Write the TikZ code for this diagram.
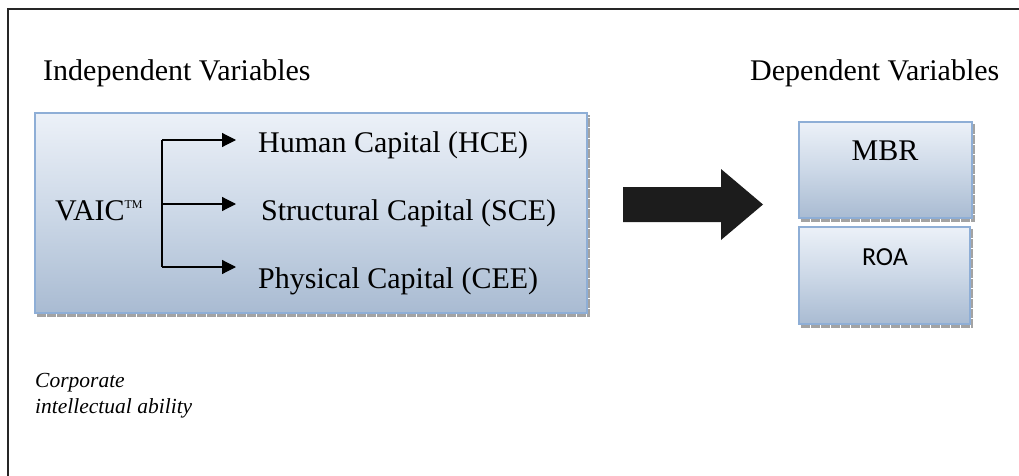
\documentclass[tikz,border=0pt]{standalone}
\usepackage{fontspec}
\setmainfont{Liberation Serif}
\newfontfamily\calib{Carlito}
\usetikzlibrary{arrows.meta}
\definecolor{boxtop}{HTML}{ECF1F8}
\definecolor{boxmid}{HTML}{CCD8E7}
\definecolor{boxbot}{HTML}{A9BBD2}
\definecolor{boxedge}{HTML}{8EAED6}
\definecolor{shadowgray}{HTML}{A3A3A3}
\definecolor{arrowblack}{HTML}{1C1C1C}
\tikzset{
  glassbox/.style={draw=boxedge, line width=1.8pt, top color=boxtop, bottom color=boxbot, middle color=boxmid},
  boxshadow/.style={draw=shadowgray, line width=2.2pt, dash pattern=on 9pt off 1pt},
  bigtxt/.style={inner sep=0pt, font=\fontsize{30}{30}\selectfont},
  itxt/.style={inner sep=0pt, font=\fontsize{21.5}{21.5}\selectfont\itshape},
  branch/.style={line width=1.2pt, draw=black},
  brarrow/.style={branch, -{Triangle[length=14pt,width=14pt]}},
}
\begin{document}
\begin{tikzpicture}[x=1pt,y=-1pt]
\useasboundingbox (0,0) rectangle (1019,476);
% outer frame (top and left only)
\draw[line width=1.4pt, draw=black!85] (8,476) -- (8,9) -- (1019,9);

% headings
\node[bigtxt, anchor=base west] (indep) at (43,81) {Independent Variables};
\node[bigtxt, anchor=base west] (dep) at (750,81) {Dependent Variables};

% big box
\draw[boxshadow] (37,315.5) -- (589,315.5) -- (589,115);
\path[glassbox] (35,113) rectangle (587,313);

% VAIC and capitals
\node[bigtxt, anchor=base west] (vaic) at (55,220) {VAIC\raisebox{12pt}{\fontsize{12}{12}\selectfont TM}};
\node[bigtxt, anchor=base west] (hce) at (258,152) {Human Capital (HCE)};
\node[bigtxt, anchor=base west] (sce) at (261,220) {Structural Capital (SCE)};
\node[bigtxt, anchor=base west] (cee) at (258,288) {Physical Capital (CEE)};

\coordinate (btop) at (162,140);
\coordinate (bmid) at (162,204);
\coordinate (bbot) at (162,267);
\coordinate (etop) at (236,140);
\coordinate (emid) at (236,204);
\coordinate (ebot) at (236,267);
\draw[branch] (btop) -- (bbot);
\draw[brarrow] (btop) -- (etop);
\draw[brarrow] (bmid) -- (emid);
\draw[brarrow] (bbot) -- (ebot);

% block arrow
\fill[arrowblack] (623,187) -- (721,187) -- (721,169) -- (763,204.5) -- (721,240) -- (721,222) -- (623,222) -- cycle;

% dependent boxes
\draw[boxshadow] (801,220.5) -- (974,220.5) -- (974,124);
\path[glassbox] (799,122) rectangle (972,218);
\node[bigtxt, anchor=base] (mbr) at (885,160) {MBR};
\draw[boxshadow] (801,326.5) -- (972,326.5) -- (972,229);
\path[glassbox] (799,227) rectangle (970,324);
\node[inner sep=0pt, font=\fontsize{26}{26}\selectfont\calib, anchor=base] (roa) at (885,265) {ROA};

% caption
\node[itxt, anchor=base west] (corp) at (35,387) {Corporate};
\node[itxt, anchor=base west] (intel) at (35,413) {intellectual ability};
\end{tikzpicture}
\end{document}
